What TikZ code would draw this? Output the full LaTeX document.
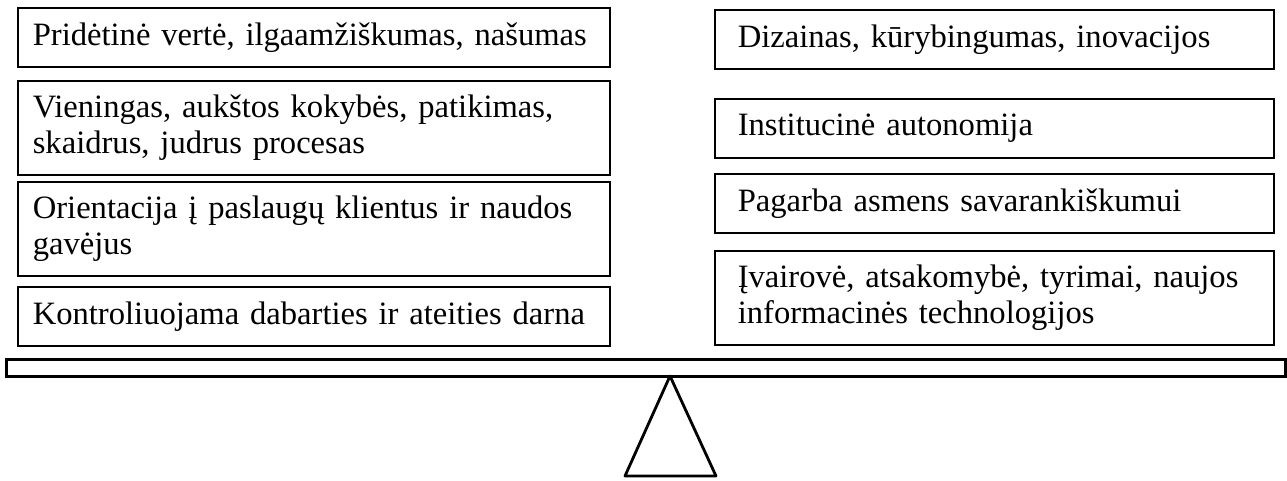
\documentclass[tikz,border=0pt]{standalone}
\usepackage{fontspec}
\setmainfont{Liberation Serif}

\begin{document}
\begin{tikzpicture}[x=0.5pt,y=-0.5pt,
    leftbox/.style={draw, line width=0.8pt, anchor=north west, inner xsep=7.5pt, text width=281pt, align=left, font=\fontsize{16.3}{18}\selectfont},
    rightbox/.style={leftbox, inner xsep=11.5pt, text width=256.5pt},
    oneline/.style={minimum height=29.5pt},
    twoline/.style={minimum height=47pt}]
    \useasboundingbox (0,0) rectangle (1287,481);
    % left side of the scale
    \node[leftbox,oneline] (verte) at (17,7) {Pridėtinė vertė, ilgaamžiškumas, našumas};
    \node[leftbox,twoline] (procesas) at (17,80) {Vieningas, aukštos kokybės, patikimas,\\ skaidrus, judrus procesas};
    \node[leftbox,twoline] (klientai) at (17,181) {Orientacija į paslaugų klientus ir naudos\\ gavėjus};
    \node[leftbox,oneline] (darna) at (17,286) {Kontroliuojama dabarties ir ateities darna};
    % right side of the scale
    \node[rightbox,oneline] (dizainas) at (714,9) {Dizainas, kūrybingumas, inovacijos};
    \node[rightbox,oneline] (autonomija) at (714,98) {Institucinė autonomija};
    \node[rightbox,oneline] (pagarba) at (714,173) {Pagarba asmens savarankiškumui};
    \node[rightbox,twoline] (ivairove) at (714,250) {Įvairovė, atsakomybė, tyrimai, naujos\\ informacinės technologijos};
    % beam and pivot
    \draw [line width=1.5pt] (6,359) rectangle (1285,376);
    \draw [line width=1.4pt, line join=round] (670,376) -- (625,476) -- (716,476) -- cycle;
\end{tikzpicture}
\end{document}
